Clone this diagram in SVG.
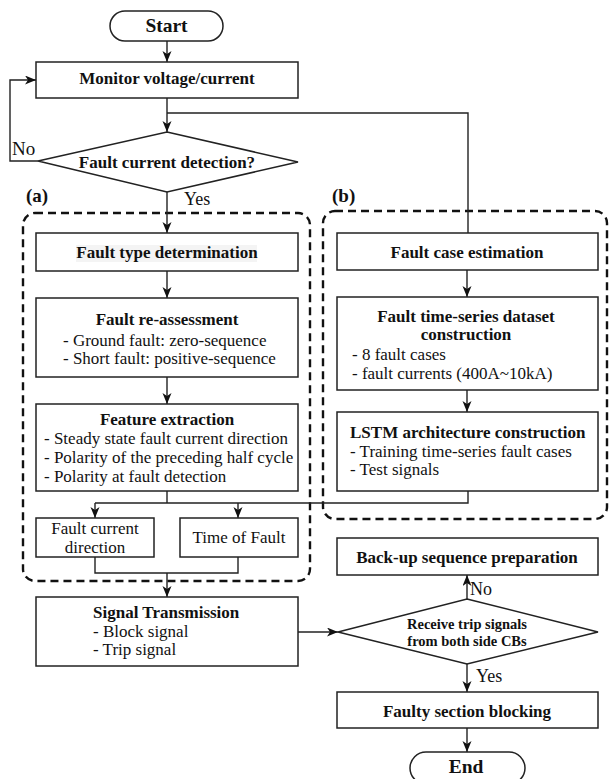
<svg xmlns="http://www.w3.org/2000/svg" width="609" height="779" viewBox="0 0 609 779">
  <style>
    .box { fill: #fff; stroke: #222; stroke-width: 1.5; }
    .dash { fill: none; stroke: #111; stroke-width: 2.4; stroke-dasharray: 8 5; }
    .line { fill: none; stroke: #222; stroke-width: 1.4; }
    text { font-family: "Liberation Serif", "Times New Roman", serif; fill: #111; }
    .t { font-size: 17px; }
    .b { font-weight: bold; }
    .c { text-anchor: middle; }
  </style>
  <defs>
    <marker id="arrow" markerUnits="userSpaceOnUse" markerWidth="12" markerHeight="10" refX="11" refY="4.5" orient="auto">
      <path d="M0,0 L11,4.5 L0,9 L3,4.5 Z" fill="#111"/>
    </marker>
  </defs>

  <rect width="609" height="779" fill="#fff"/>

  <!-- dashed group outlines -->
  <g id="group-a">
    <rect class="dash" x="23" y="213" width="287" height="368" rx="12"/>
    <text class="b" x="26" y="202" font-size="19">(a)</text>
  </g>
  <g id="group-b">
    <rect class="dash" x="323" y="211" width="284" height="308" rx="12"/>
    <text class="b" x="332" y="202" font-size="19">(b)</text>
  </g>

  <!-- connectors -->
  <g id="connectors">
    <path class="line" d="M167,41 V62" marker-end="url(#arrow)"/>
    <path class="line" d="M167,98 V132" marker-end="url(#arrow)"/>
    <path class="line" d="M167,113 H468 V233"/>
    <path class="line" d="M38,161 H10 V80 H36" marker-end="url(#arrow)"/>
    <path class="line" d="M167,192 V233" marker-end="url(#arrow)"/>
    <path class="line" d="M167,271 V298" marker-end="url(#arrow)"/>
    <path class="line" d="M167,377 V404" marker-end="url(#arrow)"/>
    <path class="line" d="M167,491 V503"/>
    <path class="line" d="M95,503 H468 V491"/>
    <path class="line" d="M95,503 V518" marker-end="url(#arrow)"/>
    <path class="line" d="M238,503 V518" marker-end="url(#arrow)"/>
    <path class="line" d="M95,557 V573 H238 V557"/>
    <path class="line" d="M167,573 V597" marker-end="url(#arrow)"/>
    <path class="line" d="M298,632 H338" marker-end="url(#arrow)"/>
    <path class="line" d="M467,599 V575" marker-end="url(#arrow)"/>
    <path class="line" d="M467,664 V692" marker-end="url(#arrow)"/>
    <path class="line" d="M467,728 V752" marker-end="url(#arrow)"/>
    <path class="line" d="M467,270 V297" marker-end="url(#arrow)"/>
    <path class="line" d="M467,390 V412" marker-end="url(#arrow)"/>
    <text x="12" y="155" font-size="19">No</text>
    <text x="184" y="205" font-size="18">Yes</text>
    <text x="470" y="595" font-size="18">No</text>
    <text x="476" y="682" font-size="18">Yes</text>
  </g>

  <!-- nodes -->
  <g id="start">
    <rect class="box" x="110" y="11" width="113" height="30" rx="15"/>
    <text class="b c" x="166.5" y="32" font-size="19.5">Start</text>
  </g>
  <g id="monitor">
    <rect class="box" x="36" y="62" width="262" height="36"/>
    <text class="t b c" x="167" y="84">Monitor voltage/current</text>
  </g>
  <g id="detect">
    <polygon class="box" points="167,132 298,162 167,192 38,161"/>
    <text class="t b c" x="167" y="168">Fault current detection?</text>
  </g>
  <g id="fault-type">
    <rect class="box" x="36" y="233" width="262" height="38"/>
    <rect x="76" y="245" width="181" height="17" fill="#f4f4f4"/>
    <text class="t b c" x="167" y="258">Fault type determination</text>
  </g>
  <g id="reassess">
    <rect class="box" x="36" y="298" width="262" height="79"/>
    <text class="t b c" x="167" y="325">Fault re-assessment</text>
    <text class="t" x="63" y="346">- Ground fault: zero-sequence</text>
    <text class="t" x="63" y="364">- Short fault: positive-sequence</text>
  </g>
  <g id="feature">
    <rect class="box" x="36" y="404" width="262" height="87"/>
    <text class="t b c" x="167" y="425">Feature extraction</text>
    <text class="t" x="44" y="444">- Steady state fault current direction</text>
    <text class="t" x="44" y="463">- Polarity of the preceding half cycle</text>
    <text class="t" x="44" y="482">- Polarity at fault detection</text>
  </g>
  <g id="direction">
    <rect class="box" x="36" y="518" width="118" height="39"/>
    <text class="t c" x="95" y="534">Fault current</text>
    <text class="t c" x="95" y="553">direction</text>
  </g>
  <g id="time">
    <rect class="box" x="180" y="518" width="118" height="39"/>
    <text class="t c" x="239" y="543">Time of Fault</text>
  </g>
  <g id="signal">
    <rect class="box" x="36" y="597" width="262" height="69"/>
    <text class="t b" x="93" y="618">Signal Transmission</text>
    <text class="t" x="93" y="637">- Block signal</text>
    <text class="t" x="93" y="655">- Trip signal</text>
  </g>
  <g id="case-estimation">
    <rect class="box" x="337" y="233" width="261" height="37"/>
    <text class="t b c" x="467" y="258">Fault case estimation</text>
  </g>
  <g id="dataset">
    <rect class="box" x="337" y="297" width="261" height="93"/>
    <text class="t b c" x="466" y="322">Fault time-series dataset</text>
    <text class="t b c" x="466" y="340">construction</text>
    <text class="t" x="352" y="360">- 8 fault cases</text>
    <text class="t" x="352" y="379">- fault currents (400A~10kA)</text>
  </g>
  <g id="lstm">
    <rect class="box" x="337" y="412" width="261" height="79"/>
    <text class="t b" x="350" y="438">LSTM architecture construction</text>
    <text class="t" x="350" y="457">- Training time-series fault cases</text>
    <text class="t" x="350" y="475">- Test signals</text>
  </g>
  <g id="backup">
    <rect class="box" x="337" y="538" width="261" height="37"/>
    <text class="t b c" x="467" y="563">Back-up sequence preparation</text>
  </g>
  <g id="receive">
    <polygon class="box" points="467,599 598,632 467,664 338,632"/>
    <text class="b c" x="467" y="629" font-size="14.5">Receive trip signals</text>
    <text class="b c" x="467" y="646" font-size="14.5">from both side CBs</text>
  </g>
  <g id="blocking">
    <rect class="box" x="337" y="692" width="261" height="36"/>
    <text class="t b c" x="467" y="717">Faulty section blocking</text>
  </g>
  <g id="end">
    <rect class="box" x="410" y="752" width="115" height="32" rx="16"/>
    <text class="b c" x="466" y="773" font-size="19.5">End</text>
  </g>
</svg>
